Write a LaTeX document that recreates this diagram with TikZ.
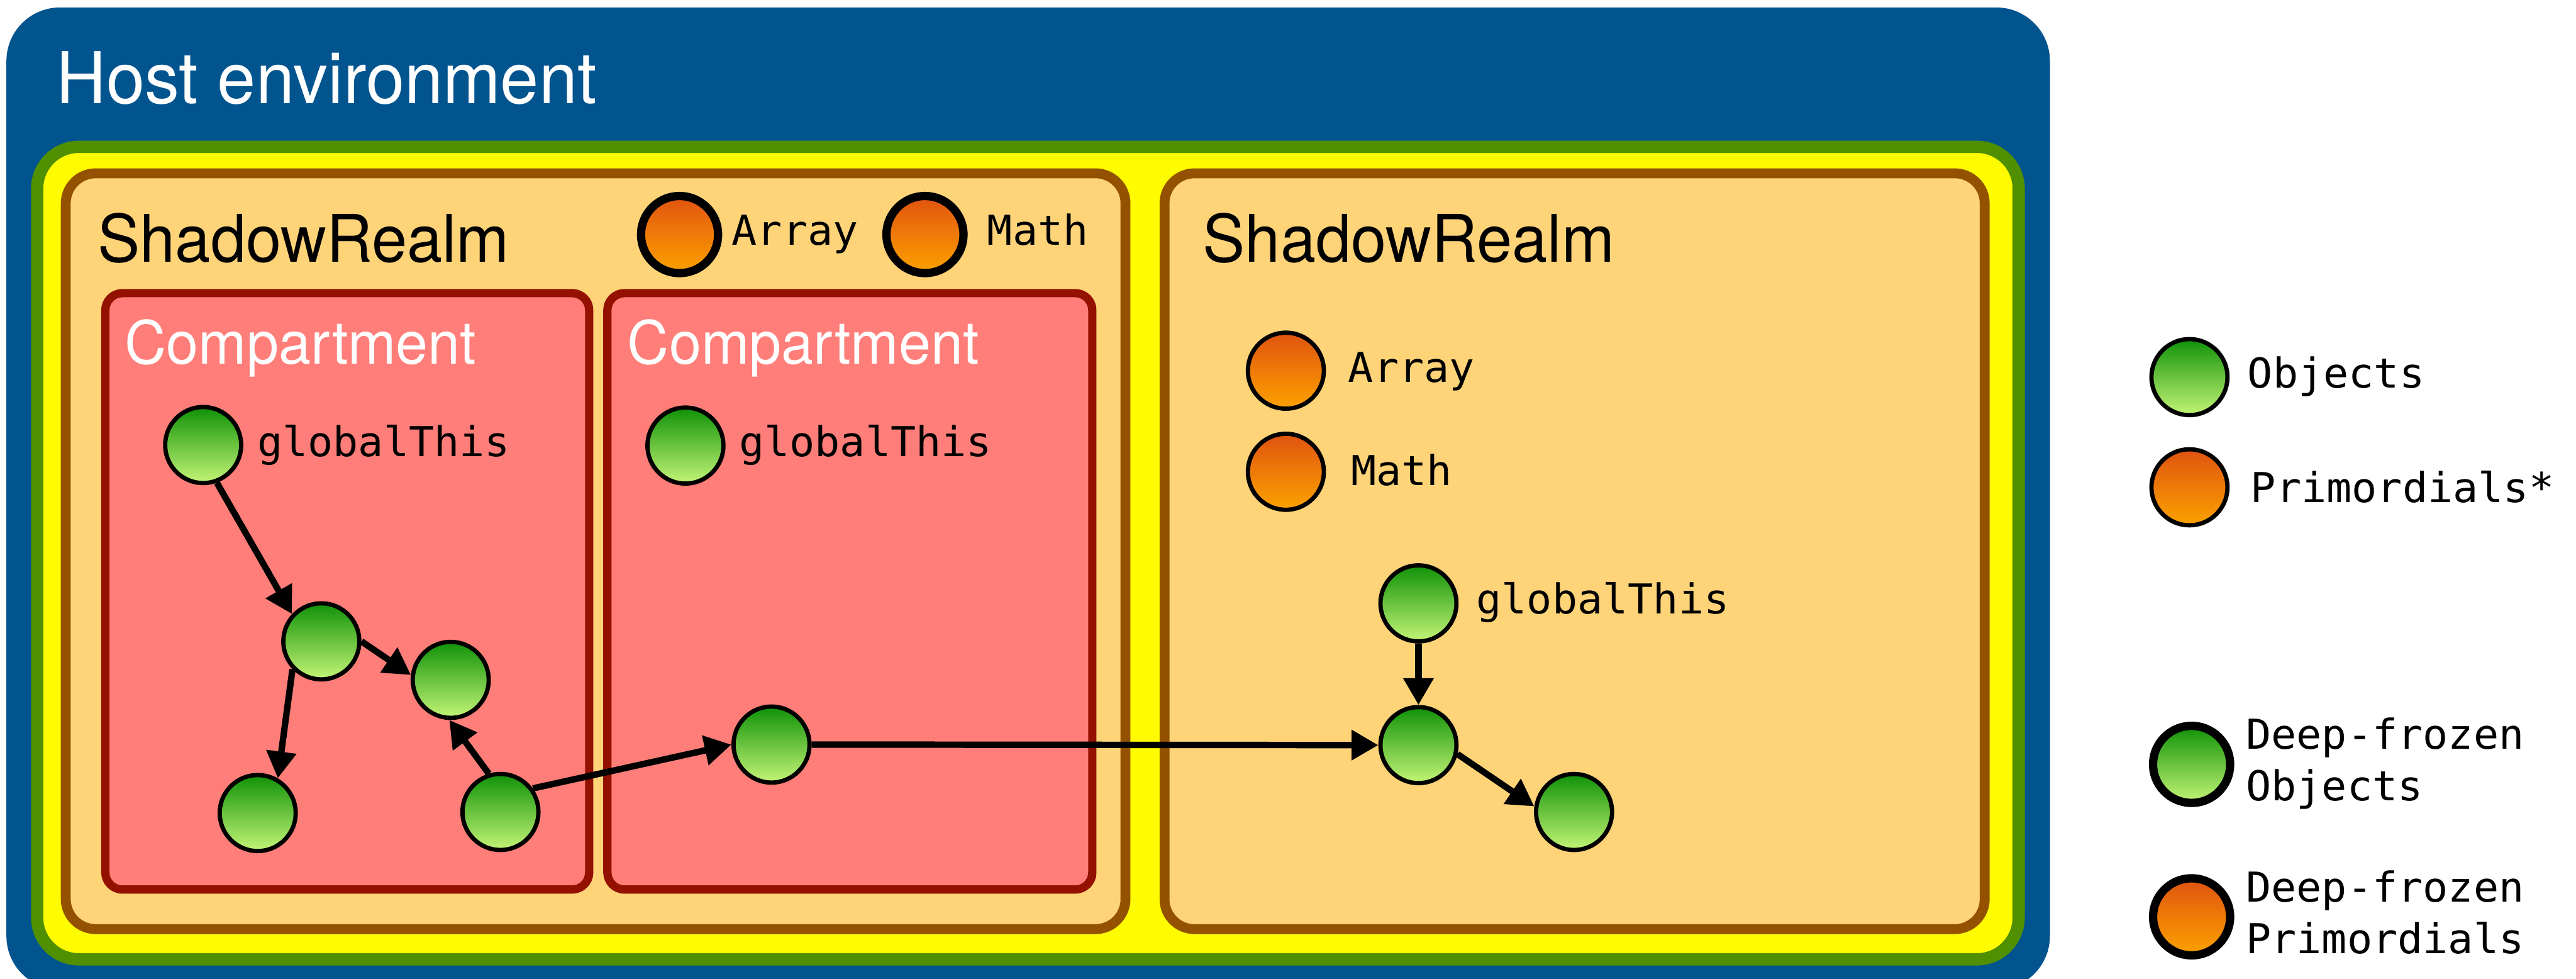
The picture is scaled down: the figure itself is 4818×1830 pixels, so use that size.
\documentclass[tikz,border=0pt]{standalone}
\usepackage{fontspec}
\usetikzlibrary{arrows.meta}
% Helvetica-like sans, slightly condensed, and a monospace for identifiers
\newfontfamily\helv[FakeStretch=0.968]{TeX Gyre Heros}
\newfontfamily\mono[FakeStretch=1.02]{DejaVu Sans Mono}
% Palette
\definecolor{ocean}{HTML}{02548F}
\definecolor{clover}{HTML}{4F8F00}
\definecolor{lemon}{HTML}{FFFB00}
\definecolor{mocha}{HTML}{945200}
\definecolor{cantaloupe}{HTML}{FFD479}
\definecolor{salmon}{HTML}{FF7E79}
\definecolor{cayenne}{HTML}{941100}
\definecolor{objtop}{HTML}{109108}
\definecolor{objbot}{HTML}{C4F576}
\definecolor{primtop}{HTML}{E0530F}
\definecolor{primbot}{HTML}{FCA200}

\begin{document}
\begin{tikzpicture}[x=0.01cm, y=-0.01cm,
  realm/.style={draw=mocha, fill=cantaloupe, line width=1.85mm, rounded corners=5.6mm},
  compartment/.style={draw=cayenne, fill=salmon, line width=1.55mm, rounded corners=3.2mm},
  dot/.style={circle, draw=black, line width=0.8mm, minimum size=1.42cm, inner sep=0pt},
  obj/.style={dot, top color=objtop, bottom color=objbot},
  prim/.style={dot, top color=primtop, bottom color=primbot},
  frozen/.style={line width=1.55mm, minimum size=1.44cm},
  lbl/.style={anchor=base west, inner sep=0pt, font=\mono\fontsize{21.9pt}{27.4pt}\selectfont},
  twoline/.style={lbl, text width=6cm, align=left},
  title/.style={anchor=base west, inner sep=0pt},
  ref/.style={-{Triangle[length=5mm, width=5.4mm]}, line width=1.2mm},
]
\useasboundingbox (0,0) rectangle (4818,1830);
\clip (0,0) rectangle (4818,1830);
\fill[white] (0,0) rectangle (4818,1830);

% Host environment
\fill[ocean, rounded corners=10mm] (12,14) rectangle (3834,1850);
\node[title, text=white, font=\helv\fontsize{38pt}{45pt}\selectfont] (host) at (105,194) {Host environment};

% Frozen realm area
\draw[clover, fill=lemon, line width=2.3mm, rounded corners=7.8mm] (69.5,274.5) rectangle (3775.5,1793.5);

% Two shadow realms
\draw[realm] (123,324) rectangle (2105,1737);
\draw[realm] (2178,324) rectangle (3712,1737);
\node[title, font=\helv\fontsize{34.9pt}{42pt}\selectfont] (srleft) at (182,490) {ShadowRealm};
\node[title, font=\helv\fontsize{34.9pt}{42pt}\selectfont] (srright) at (2249,490) {ShadowRealm};

% Compartments of the left realm
\draw[compartment] (197,548) rectangle (1102,1663);
\draw[compartment] (1136,548) rectangle (2043,1663);
\node[title, text=white, font=\helv\fontsize{31.7pt}{38pt}\selectfont] (compA) at (233,680) {Compartment};
\node[title, text=white, font=\helv\fontsize{31.7pt}{38pt}\selectfont] (compB) at (1173,680) {Compartment};

% Deep-frozen primordials shared by the left realm
\node[prim, frozen] (arrL) at (1271,438.5) {};
\node[lbl] (arrLlbl) at (1368,458.6) {Array};
\node[prim, frozen] (mathL) at (1730,438.5) {};
\node[lbl] (mathLlbl) at (1846,458.6) {Math};

% First compartment object graph
\node[obj] (g1) at (380,832) {};
\node[lbl] (g1lbl) at (480.5,853) {globalThis};
\node[obj] (A) at (601,1199) {};
\node[obj] (B) at (843,1271) {};
\node[obj] (C) at (482,1520) {};
\node[obj] (D) at (936,1518) {};

% Second compartment
\node[obj] (g2) at (1282,833) {};
\node[lbl] (g2lbl) at (1381.5,853) {globalThis};
\node[obj] (E) at (1443,1392) {};

% Right realm
\node[prim] (arrR) at (2405,693) {};
\node[lbl] (arrRlbl) at (2521,714) {Array};
\node[prim] (mathR) at (2405,882) {};
\node[lbl] (mathRlbl) at (2526,907) {Math};
\node[obj] (F) at (2653,1128) {};
\node[lbl] (Flbl) at (2760.5,1148) {globalThis};
\node[obj] (G) at (2653,1393) {};
\node[obj] (H) at (2944,1518) {};

% References
\draw[ref] (g1.-70) -- (A.137);
\draw[ref] (A.0) -- (B.173);
\draw[ref] (A.-136) -- (C.60);
\draw[ref] (D.107) -- (B.-92);
\draw[ref] (D.36) -- (E.180);
\draw[ref] (E.0) -- (G.180);
\draw[ref] (F.-90) -- (G.90);
\draw[ref] (G.-13) -- (H.172);

% Legend
\node[obj] (legObj) at (4095,705) {};
\node[lbl] (legObjlbl) at (4203,725.5) {Objects};
\node[prim] (legPrim) at (4095,911) {};
\node[lbl] (legPrimlbl) at (4209,939) {Primordials*};
\node[obj, frozen] (legDFO) at (4099,1429) {};
\node[twoline] (legDFOlbl) at (4200,1400) {Deep-frozen\\Objects};
\node[prim, frozen] (legDFP) at (4099,1714) {};
\node[twoline] (legDFPlbl) at (4200,1686) {Deep-frozen\\Primordials};
\end{tikzpicture}
\end{document}
